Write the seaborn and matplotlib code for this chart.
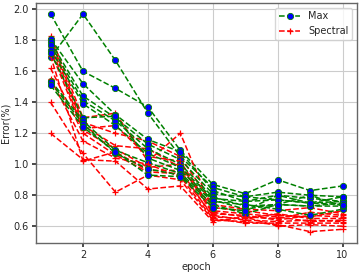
import numpy as np
import pandas as pd
import matplotlib as mpl
mpl.use("Agg")
from matplotlib import pyplot as plt
import seaborn as sns

# data
epochs = [1, 2, 3, 4, 5, 6, 7, 8, 9, 10]

max_runs = [
    [1.97, 1.60, 1.49, 1.37, 1.09, 0.87, 0.81, 0.90, 0.83, 0.86],
    [1.69, 1.97, 1.67, 1.33, 1.05, 0.85, 0.79, 0.82, 0.80, 0.79],
    [1.81, 1.52, 1.32, 1.16, 1.08, 0.83, 0.76, 0.80, 0.78, 0.76],
    [1.79, 1.44, 1.30, 1.13, 1.03, 0.81, 0.79, 0.77, 0.75, 0.76],
    [1.77, 1.41, 1.28, 1.10, 1.00, 0.79, 0.73, 0.74, 0.80, 0.73],
    [1.74, 1.39, 1.25, 1.07, 0.98, 0.78, 0.76, 0.77, 0.75, 0.79],
    [1.72, 1.30, 1.31, 1.04, 0.96, 0.77, 0.71, 0.74, 0.73, 0.75],
    [1.54, 1.28, 1.09, 1.01, 0.94, 0.76, 0.74, 0.71, 0.67, 0.71],
    [1.53, 1.26, 1.07, 0.97, 0.93, 0.74, 0.68, 0.74, 0.73, 0.73],
    [1.51, 1.24, 1.08, 0.93, 0.92, 0.72, 0.70, 0.80, 0.75, 0.74],
]

spectral_runs = [
    [1.83, 1.30, 1.33, 1.02, 1.20, 0.70, 0.68, 0.66, 0.63, 0.64],
    [1.81, 1.27, 1.20, 1.15, 1.05, 0.74, 0.71, 0.70, 0.72, 0.68],
    [1.79, 1.25, 1.12, 1.10, 0.98, 0.72, 0.70, 0.67, 0.66, 0.70],
    [1.76, 1.23, 1.25, 1.05, 1.02, 0.69, 0.66, 0.65, 0.69, 0.67],
    [1.73, 1.22, 1.10, 0.98, 1.00, 0.68, 0.67, 0.64, 0.67, 0.66],
    [1.70, 1.02, 1.08, 0.96, 0.96, 0.66, 0.65, 0.68, 0.65, 0.65],
    [1.62, 1.20, 1.06, 0.95, 0.94, 0.67, 0.64, 0.63, 0.64, 0.63],
    [1.55, 1.15, 1.04, 1.00, 0.92, 0.65, 0.62, 0.62, 0.62, 0.62],
    [1.40, 1.07, 0.82, 0.93, 0.90, 0.64, 0.63, 0.61, 0.565, 0.58],
    [1.20, 1.03, 1.02, 0.84, 0.86, 0.63, 0.66, 0.60, 0.61, 0.60],
]

sns.set_theme(style="whitegrid", rc={
    "axes.edgecolor": "#666666",
    "axes.linewidth": 1.0,
    "grid.color": "#cccccc",
    "grid.linewidth": 0.8,
    "xtick.labelsize": 7,
    "ytick.labelsize": 7,
    "axes.labelsize": 7,
    "legend.fontsize": 7,
})
plt.rcParams["font.family"] = ["DejaVu Sans"]

fig = plt.figure(figsize=(3.6, 2.72), dpi=100)
ax = fig.add_axes([0.1, 0.108, 0.892, 0.882])

for i in range(len(max_runs)):
    sns.lineplot(x=epochs, y=max_runs[i], ax=ax, color="green",
                 linestyle="--", linewidth=1.1, marker="o", markersize=4.5,
                 markerfacecolor="blue", markeredgecolor="green",
                 markeredgewidth=0.6, label="Max" if i == 0 else None)
    sns.lineplot(x=epochs, y=spectral_runs[i], ax=ax, color="red",
                 linestyle="--", linewidth=1.1, marker="+", markersize=5,
                 markeredgecolor="red", markeredgewidth=0.9,
                 label="Spectral" if i == 0 else None)

ax.set_xlim(0.55, 10.45)
ax.set_ylim(0.494, 2.043)
ax.set_xticks([2, 4, 6, 8, 10])
ax.set_yticks(np.arange(0.6, 2.01, 0.2))
ax.set_xlabel("epoch", labelpad=2)
ax.set_ylabel("Error(%)", labelpad=2)
ax.tick_params(axis="both", pad=2, length=3, color="#333333", left=True, bottom=True)
ax.legend(loc="upper right", frameon=True, handlelength=2.2, borderpad=0.4)

fig.savefig("out.png", dpi=100)
